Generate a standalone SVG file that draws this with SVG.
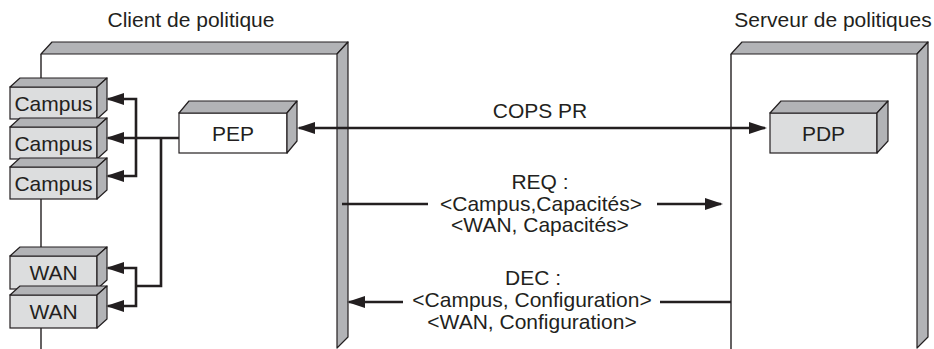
<svg xmlns="http://www.w3.org/2000/svg" width="934" height="349" viewBox="0 0 934 349">
  <style>
    .face { fill: #b2b3b6; stroke: #231f20; stroke-width: 1.2; stroke-linejoin: round; }
    .front { fill: #dcddde; stroke: #231f20; stroke-width: 1.2; }
    .white { fill: #ffffff; stroke: #231f20; stroke-width: 1.2; }
    .edge { fill: none; stroke: #231f20; stroke-width: 1.4; }
    .conn { fill: none; stroke: #231f20; stroke-width: 2.6; stroke-linejoin: miter; }
    text { font-family: "Liberation Sans", Arial, sans-serif; font-size: 21px; fill: #231f20; text-anchor: middle; }
  </style>
  <defs>
    <marker id="ah" viewBox="0 0 18 12" refX="16" refY="6" markerWidth="18" markerHeight="12" markerUnits="userSpaceOnUse" orient="auto-start-reverse">
      <path d="M0,0 L18,6 L0,12 Z" fill="#231f20"/>
    </marker>
  </defs>

  <rect width="934" height="349" fill="#ffffff"/>

  <g id="client-frame">
    <path class="edge" d="M41,54 V349"/>
    <polygon class="face" points="41,54 52,42 348,42 337,54"/>
    <polygon class="face" points="337,54 348,42 348,337 337,348"/>
    <text x="191" y="27">Client de politique</text>
  </g>

  <g id="server-frame">
    <path class="edge" d="M731,54 V349"/>
    <polygon class="face" points="731,54 742,42 928,42 917,54"/>
    <polygon class="face" points="917,54 928,42 928,337 917,348"/>
    <text x="833" y="27">Serveur de politiques</text>
  </g>

  <g id="campus1">
    <rect class="front" x="10" y="87" width="87" height="32"/>
    <polygon class="face" points="10,87 20,78 107,78 97,87"/>
    <polygon class="face" points="97,87 107,78 107,110 97,119"/>
    <text x="53.5" y="110.5">Campus</text>
  </g>
  <g id="campus2">
    <rect class="front" x="10" y="127" width="87" height="32"/>
    <polygon class="face" points="10,127 20,118 107,118 97,127"/>
    <polygon class="face" points="97,127 107,118 107,150 97,159"/>
    <text x="53.5" y="150.5">Campus</text>
  </g>
  <g id="campus3">
    <rect class="front" x="10" y="167" width="87" height="32"/>
    <polygon class="face" points="10,167 20,158 107,158 97,167"/>
    <polygon class="face" points="97,167 107,158 107,190 97,199"/>
    <text x="53.5" y="190.5">Campus</text>
  </g>
  <g id="wan1">
    <rect class="front" x="10" y="256" width="87" height="33"/>
    <polygon class="face" points="10,256 20,247 107,247 97,256"/>
    <polygon class="face" points="97,256 107,247 107,280 97,289"/>
    <text x="53.5" y="280">WAN</text>
  </g>
  <g id="wan2">
    <rect class="front" x="10" y="295" width="87" height="33"/>
    <polygon class="face" points="10,295 20,286 107,286 97,295"/>
    <polygon class="face" points="97,295 107,286 107,319 97,328"/>
    <text x="53.5" y="319">WAN</text>
  </g>

  <g id="pep">
    <rect class="white" x="179" y="113" width="108" height="40"/>
    <polygon class="face" points="179,113 189,101 297,101 287,113"/>
    <polygon class="face" points="287,113 297,101 297,141 287,153"/>
    <text x="233" y="141">PEP</text>
  </g>

  <g id="pdp">
    <rect class="front" x="770" y="113" width="107" height="40"/>
    <polygon class="face" points="770,113 781,101 888,101 877,113"/>
    <polygon class="face" points="877,113 888,101 888,141 877,153"/>
    <text x="823.5" y="141">PDP</text>
  </g>

  <g id="connectors">
    <path class="conn" d="M179,138 H108" marker-end="url(#ah)"/>
    <path class="conn" d="M108,99 H136 V176 H108" marker-start="url(#ah)" marker-end="url(#ah)"/>
    <path class="conn" d="M161,138 V286 H136"/>
    <path class="conn" d="M108,268 H136 V306 H108" marker-start="url(#ah)" marker-end="url(#ah)"/>
    <path class="conn" d="M299,128 H765" marker-start="url(#ah)" marker-end="url(#ah)"/>
    <path class="conn" d="M342,204 H428"/>
    <path class="conn" d="M657,204 H721" marker-end="url(#ah)"/>
    <path class="conn" d="M403,302 H349" marker-end="url(#ah)"/>
    <path class="conn" d="M660,302 H731"/>
  </g>

  <g id="labels">
    <text x="540" y="118">COPS PR</text>
    <text x="540" y="189">REQ :</text>
    <text x="541" y="211">&lt;Campus,Capacités&gt;</text>
    <text x="540" y="232">&lt;WAN, Capacités&gt;</text>
    <text x="533" y="285">DEC :</text>
    <text x="532" y="307">&lt;Campus, Configuration&gt;</text>
    <text x="532" y="329">&lt;WAN, Configuration&gt;</text>
  </g>
</svg>
